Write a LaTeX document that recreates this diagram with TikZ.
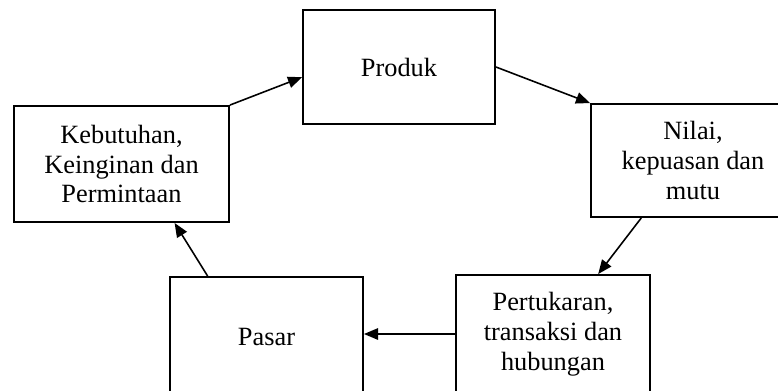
\documentclass[tikz,border=0pt]{standalone}
\usepackage{fontspec}
\setmainfont{Liberation Serif}
\usetikzlibrary{arrows.meta}

\begin{document}
\begin{tikzpicture}[
  x=0.02cm, y=-0.02cm,
  box/.style={draw,line width=1.1pt,align=center,inner sep=0pt,font=\fontsize{15}{17}\selectfont},
  link/.style={line width=0.9pt,-{Triangle[length=8pt,width=6.5pt]}}
]
  \useasboundingbox (0,0) rectangle (778,390);
  \clip (0,0) rectangle (778,390);
  \node[box,minimum width=192*0.02cm,minimum height=114*0.02cm] (prod) at (399,67) {Produk};
  \node[box,minimum width=215*0.02cm,minimum height=116*0.02cm] (need) at (121.5,164) {Kebutuhan,\\Keinginan dan\\Permintaan};
  \node[box,minimum width=204*0.02cm,minimum height=113*0.02cm] (nilai) at (693,160.5) {Nilai,\\kepuasan dan\\mutu};
  \node[box,minimum width=194*0.02cm,minimum height=118*0.02cm] (tukar) at (553,334) {Pertukaran,\\transaksi dan\\hubungan};
  \node[box,minimum width=193*0.02cm,minimum height=120*0.02cm] (pasar) at (266.5,337) {Pasar};
  \draw[link] (need.north east) -- (prod.186);
  \draw[link] (prod.east) -- (nilai.north west);
  \draw[link] (nilai.228) -- (tukar.53);
  \draw[link] (tukar.west) -- (tukar.west -| pasar.east);
  \draw[link] (pasar.134) -- (need.312);
\end{tikzpicture}
\end{document}
